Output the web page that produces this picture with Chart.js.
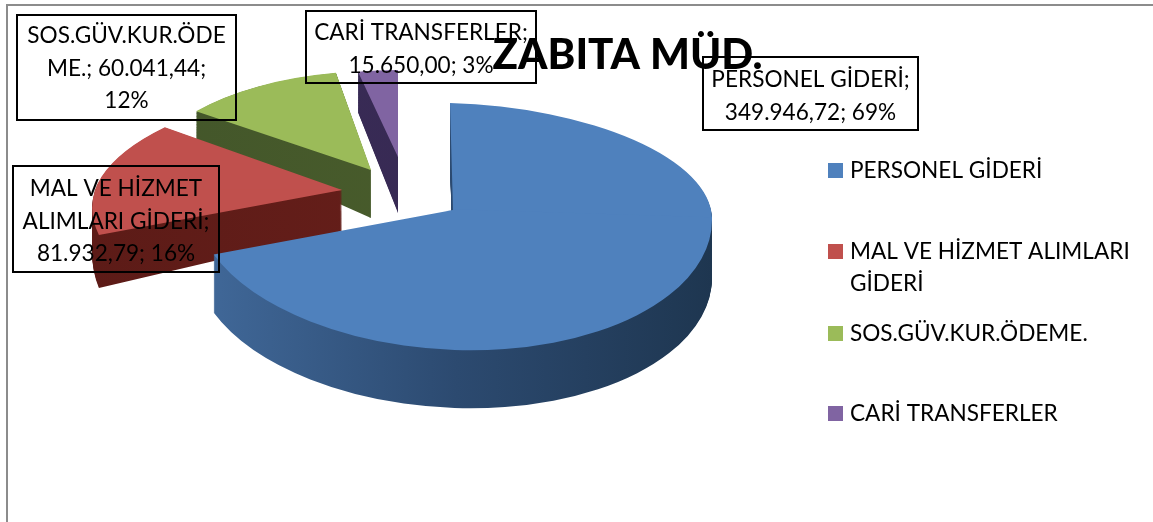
<!DOCTYPE html>
<html>
<head>
<meta charset="utf-8">
<script src="https://cdn.jsdelivr.net/npm/chart.js@4"></script>
<style>
  html, body { margin: 0; padding: 0; background: #fff; overflow: hidden; }
  #frame { position: absolute; left: 6px; top: 4px; right: 0; bottom: 0; border-left: 2px solid #8c8c8c; border-top: 2px solid #8c8c8c; }
  #myChart { position: absolute; left: 0; top: 0; }
</style>
</head>
<body>
<div id="frame"></div>
<canvas id="myChart" width="1153" height="522"></canvas>
<script>
let categories = ['PERSONEL GİDERİ', 'MAL VE HİZMET ALIMLARI GİDERİ', 'SOS.GÜV.KUR.ÖDEME.', 'CARİ TRANSFERLER'];
let values = [349946.72, 81932.79, 60041.44, 15650.00];
let colors = ['#4f81bd', '#c0504d', '#9bbb59', '#8064a2'];
let chartTitle = 'ZABITA MÜD.';

let calloutLines = [
  ['PERSONEL GİDERİ;', '349.946,72; 69%'],
  ['MAL VE HİZMET', 'ALIMLARI GİDERİ;', '81.932,79; 16%'],
  ['SOS.GÜV.KUR.ÖDE', 'ME.; 60.041,44;', '12%'],
  ['CARİ TRANSFERLER;', '15.650,00; 3%']
];
let legendLines = [['PERSONEL GİDERİ'], ['MAL VE HİZMET ALIMLARI', 'GİDERİ'], ['SOS.GÜV.KUR.ÖDEME.'], ['CARİ TRANSFERLER']];

// where each exploded slice sits, fitted by eye to the 3d look
let looks = [
  { x: 453, y: 210, rx: 259, up: 107, down: 140, skew: -3, tilt: 8, depth: 58, grow: 0, wall: ['#41699a', '#2c4a70', '#1e3650'] },
  { x: 342, y: 190, rx: 247, up: 106, down: 121, skew: 37, tilt: 0, depth: 41, grow: 0.27, wall: ['#5c1b17', '#6b201b'] },
  { x: 371, y: 170, rx: 223, up: 99, down: 99, skew: 8, tilt: 0, depth: 48, grow: 0.33, wall: ['#43562a', '#4b5f2c'] },
  { x: 398, y: 157, rx: 208, up: 87, down: 87, skew: 0, tilt: 0, depth: 56, grow: 0.18, wall: ['#3a2c58', '#352850'] }
];
let calloutBoxes = [
  { l: 703, t: 57, r: 918, b: 130, first: 87 },
  { l: 13, t: 166, r: 219, b: 272, first: 196 },
  { l: 17, t: 15, r: 236, b: 120, first: 43 },
  { l: 306, t: 11, r: 536, b: 83, first: 40 }
];
let legendRows = [178, 259, 341, 421];

function drawSlice(ctx, arc, look, drop, fill) {
  let R = arc.outerRadius, cx = arc.x, cy = arc.y;
  let t = look.depth ? drop / look.depth : 0;
  let saved = arc.options;
  arc.options = Object.assign({}, saved, { backgroundColor: fill, borderWidth: 0 });
  [look.up, look.down].forEach((ry, i) => {
    ctx.save();
    ctx.setTransform(look.rx / R, look.tilt / R, -look.skew / R, ry * (1 + look.grow * t) / R, look.x, look.y + drop);
    ctx.translate(-cx, -cy);
    ctx.beginPath();
    // both halves overlap a little so no seam shows
    if (i === 0) ctx.rect(cx - 2 * R, cy - 2 * R, 4 * R, 2 * R + 1);
    else ctx.rect(cx - 2 * R, cy - 1, 4 * R, 2 * R + 1);
    ctx.clip();
    arc.draw(ctx);
    ctx.restore();
  });
  arc.options = saved;
}

let pie3d = {
  id: 'pie3d',
  beforeDatasetsDraw(chart) {
    let ctx = chart.ctx;
    let arcs = chart.getDatasetMeta(0).data;
    for (let i = arcs.length - 1; i >= 0; i--) {
      let arc = arcs[i], look = looks[i];
      let grad = ctx.createLinearGradient(arc.x - arc.outerRadius, 0, arc.x + arc.outerRadius, 0);
      look.wall.forEach((c, n) => grad.addColorStop(n / (look.wall.length - 1), c));
      for (let d = look.depth; d > 0; d--) drawSlice(ctx, arc, look, d, grad);
      drawSlice(ctx, arc, look, 0, colors[i]);
    }
    return false;
  },
  afterDraw(chart) {
    let ctx = chart.ctx;
    ctx.save();
    ctx.fillStyle = '#000';
    ctx.font = '22.6px Lato';
    ctx.textBaseline = 'alphabetic';

    ctx.textAlign = 'center';
    ctx.strokeStyle = '#000';
    ctx.lineWidth = 2;
    calloutBoxes.forEach((box, i) => {
      ctx.strokeRect(box.l, box.t, box.r - box.l, box.b - box.t);
      calloutLines[i].forEach((line, n) => ctx.fillText(line, (box.l + box.r) / 2, box.first + n * 32.5));
    });

    ctx.textAlign = 'left';
    legendLines.forEach((lines, i) => {
      ctx.fillStyle = colors[i];
      ctx.fillRect(828, legendRows[i] - 15, 15, 15);
      ctx.fillStyle = '#000';
      lines.forEach((line, n) => ctx.fillText(line, 850, legendRows[i] + n * 32));
    });
    ctx.restore();
  }
};

let myChart = document.getElementById('myChart').getContext('2d');

let chart1 = new Chart(myChart, {
  type: 'pie',
  plugins: [pie3d],
  data: {
    labels: categories,
    datasets: [{
      data: values,
      backgroundColor: colors,
      borderWidth: 0
    }]
  },
  options: {
    responsive: false,
    animation: false,
    layout: { padding: { left: 102 } },
    plugins: {
      title: {
        display: true,
        text: chartTitle,
        color: '#000',
        font: { family: 'Lato', size: 42, weight: '900' },
        padding: { top: 30, bottom: 0 }
      },
      legend: { display: false },
      tooltip: { enabled: false }
    }
  }
});
</script>
</body>
</html>
